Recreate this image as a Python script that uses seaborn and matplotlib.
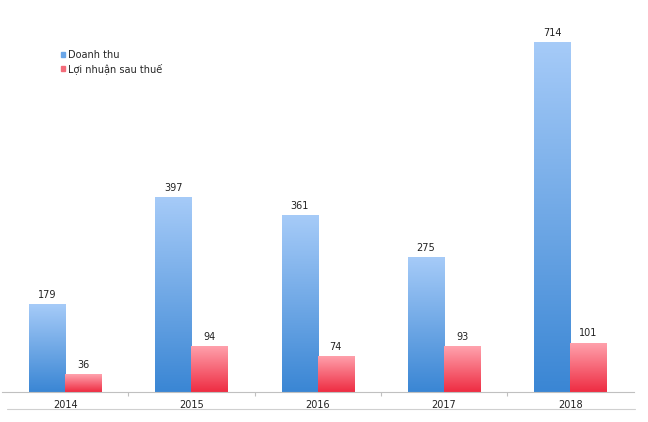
import numpy as np
import pandas as pd
import matplotlib
matplotlib.use("Agg")
import matplotlib.pyplot as plt
from matplotlib.colors import LinearSegmentedColormap
from matplotlib.lines import Line2D
import seaborn as sns

years = ["2014", "2015", "2016", "2017", "2018"]
doanh_thu = [179, 397, 361, 275, 714]
loi_nhuan = [36, 94, 74, 93, 101]
series_names = ["Doanh thu", "Lợi nhuận sau thuế"]

df = pd.DataFrame({
    "year": years * 2,
    "value": doanh_thu + loi_nhuan,
    "series": [series_names[0]] * len(years) + [series_names[1]] * len(years),
})

sns.set_theme(style="white")
plt.rcParams["font.family"] = ["DejaVu Sans"]

fig = plt.figure(figsize=(6.48, 4.22), dpi=100)
ax = fig.add_axes([2 / 648, 1 - 392 / 422, 631.5 / 648, 392 / 422])

palette = {series_names[0]: "#5b9ee6", series_names[1]: "#f5606e"}
sns.barplot(data=df, x="year", y="value", hue="series", palette=palette,
            width=0.574, ax=ax, legend=False, saturation=1)

grads = {
    series_names[0]: LinearSegmentedColormap.from_list("b", ["#3a86d4", "#a6cbf8"]),
    series_names[1]: LinearSegmentedColormap.from_list("r", ["#ee2c42", "#ffa3ae"]),
}
grad = np.linspace(0, 1, 256).reshape(-1, 1)
for container, name in zip(ax.containers, series_names):
    for patch in container.patches:
        x, y = patch.get_x(), patch.get_y()
        w, h = patch.get_width(), patch.get_height()
        patch.set_facecolor("none")
        patch.set_edgecolor("none")
        im = ax.imshow(grad, cmap=grads[name], aspect="auto", origin="lower",
                       extent=[x, x + w, y, y + h], zorder=2)
        im.set_clip_path(patch)
    ax.bar_label(container, fmt="%d", padding=3, fontsize=7, color="#222222")

ax.set_xlim(-0.5, len(years) - 0.5)
ax.set_ylim(0, 800)
ax.set_xlabel("")
ax.set_ylabel("")
ax.set_yticks([])
for s in ["top", "right", "left"]:
    ax.spines[s].set_visible(False)
ax.spines["bottom"].set_color("#c0c0c0")
ax.spines["bottom"].set_linewidth(0.8)
ax.tick_params(axis="x", which="major", length=0, labelsize=7, pad=6, labelcolor="#222222")
ax.set_xticks([i + 0.5 for i in range(len(years) - 1)], minor=True)
ax.tick_params(axis="x", which="minor", length=3, width=0.8, color="#c0c0c0", bottom=True)

handles = [plt.Rectangle((0, 0), 1, 1, color=c) for c in ["#6aa6e8", "#f36c7a"]]
ax.legend(handles, series_names, loc="upper left", bbox_to_anchor=(55 / 631.5, 1 - 46 / 392),
          frameon=False, fontsize=7, handlelength=0.45, handleheight=0.45,
          handletextpad=0.3, labelspacing=0.35, borderaxespad=0)

fig.add_artist(Line2D([7 / 648, 635 / 648], [1 - 409 / 422] * 2,
                      color="#d0d0d0", linewidth=0.8, transform=fig.transFigure))

fig.savefig("out.png", dpi=100, facecolor="white")
